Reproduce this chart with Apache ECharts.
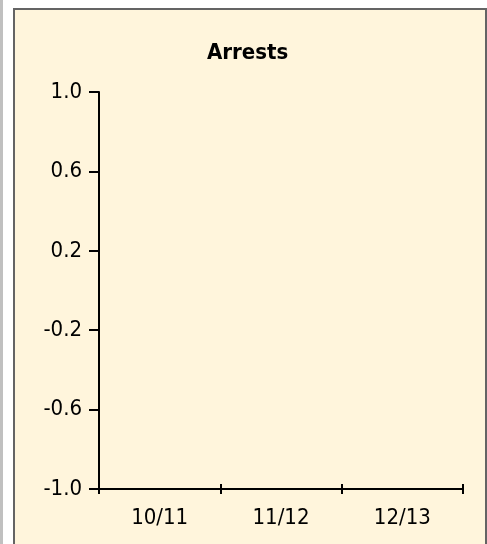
<!DOCTYPE html>
<html>
<head>
<meta charset="utf-8">
<title>Arrests</title>
<script src="https://cdn.jsdelivr.net/npm/echarts@6/dist/echarts.min.js"></script>
<style>
  html, body { margin: 0; padding: 0; background: #ffffff; }
  #strip { position: absolute; left: 0; top: 0; width: 3px; height: 544px; background: #c0c0c0; }
  #frame {
    position: absolute; left: 13px; top: 8px; width: 470px; height: 540px;
    background: #fff5dc; border: 2px solid #646464; border-bottom: none;
  }
  #chart { position: absolute; left: 0; top: 0; width: 487px; height: 544px; }
</style>
</head>
<body>
<div id="strip"></div>
<div id="frame"></div>
<div id="chart"></div>
<script>
// 图表数据
const title = 'Arrests'
const seasons = ['10/11', '11/12', '12/13']
// 这张图里没有任何数据点
const arrests = [null, null, null]
const yMin = -1.0
const yMax = 1.0
const yStep = 0.4

const font = 'DejaVu Sans Condensed'
const myChart = echarts.init(document.getElementById('chart'))

const option = {
  animation: false,
  backgroundColor: 'transparent',
  title: {
    text: title,
    left: 202,
    top: 37,
    textStyle: { fontFamily: font, fontSize: 22, fontWeight: 'bold', color: '#000' }
  },
  grid: { left: 99, right: 24, top: 92, bottom: 55 },
  xAxis: [
    {
      type: 'category',
      data: seasons,
      boundaryGap: true,
      position: 'bottom',
      axisLine: { show: true, onZero: false, lineStyle: { color: '#000', width: 2 } },
      axisTick: { show: true, length: 5, lineStyle: { color: '#000', width: 2 } },
      axisLabel: { fontFamily: font, fontSize: 22, color: '#000', margin: 18 },
      splitLine: { show: false }
    },
    {
      // 第二条x轴只负责画向内的刻度，使刻度线穿过轴线
      type: 'category',
      data: seasons,
      boundaryGap: true,
      position: 'bottom',
      axisLine: { show: false, onZero: false },
      axisTick: { show: true, inside: true, length: 5, lineStyle: { color: '#000', width: 2 } },
      axisLabel: { show: false },
      splitLine: { show: false }
    }
  ],
  yAxis: {
    type: 'value',
    min: yMin,
    max: yMax,
    interval: yStep,
    axisLine: { show: true, lineStyle: { color: '#000', width: 2 } },
    axisTick: { show: true, length: 10, lineStyle: { color: '#000', width: 2 } },
    axisLabel: {
      fontFamily: font,
      fontSize: 22,
      color: '#000',
      margin: 17,
      formatter: function (v) { return v.toFixed(1) }
    },
    splitLine: { show: false }
  },
  series: [
    { name: title, type: 'line', xAxisIndex: 0, data: arrests }
  ]
}
myChart.setOption(option, true)
</script>
</body>
</html>
